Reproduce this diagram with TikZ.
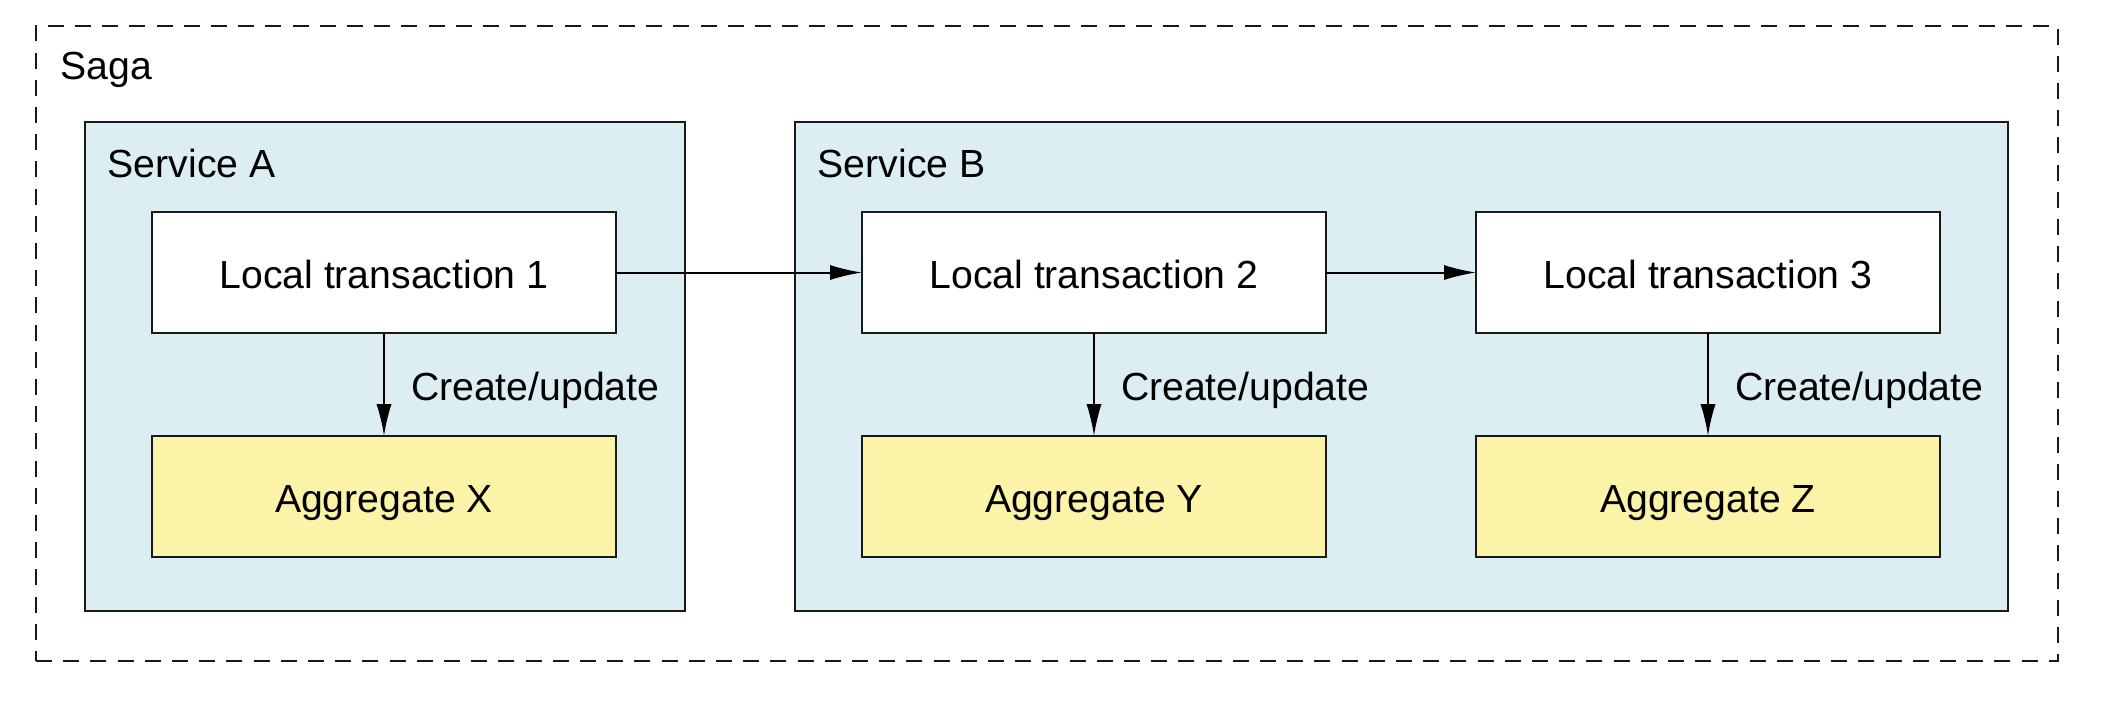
\documentclass[tikz,border=0pt]{standalone}
\usepackage{fontspec}
\setmainfont{Liberation Sans}
\usetikzlibrary{arrows.meta}
\definecolor{svcblue}{RGB}{221,238,243}
\definecolor{aggyellow}{RGB}{250,243,168}
\tikzset{
  every node/.style={font=\fontsize{9.8}{12}\selectfont},
  box/.style={draw=black!90, line width=0.6pt, inner sep=0pt, outer sep=0pt, minimum width=116pt, minimum height=30.25pt, text height=8pt, text depth=0pt},
  txbox/.style={box, fill=white},
  aggbox/.style={box, fill=aggyellow},
  svcbox/.style={draw=black!90, line width=0.6pt, fill=svcblue, inner sep=0pt, outer sep=0pt, minimum height=122.25pt},
  sagabox/.style={draw=black!90, line width=0.6pt, dash pattern=on 4pt off 2.8pt, inner sep=0pt, minimum width=505.5pt, minimum height=158.75pt},
  lbl/.style={anchor=west, inner sep=0pt},
  edgelbl/.style={lbl, text height=8pt, text depth=0pt, xshift=6.5pt},
  conn/.style={line width=0.5pt, -{Latex[length=8pt,width=3.8pt]}},
}
\begin{document}
\begin{tikzpicture}[x=0.25pt,y=-0.25pt]
\useasboundingbox (0,0) rectangle (2106,708);
\node[sagabox] (saga) at (1047,343.5) {};
\node[lbl] (sagalbl) at (60,70) {Saga};
\node[svcbox, minimum width=150pt] (svcA) at (385,366.5) {};
\node[svcbox, minimum width=303.25pt] (svcB) at (1401.5,366.5) {};
\node[lbl] (svcAlbl) at (107,163) {Service A};
\node[lbl] (svcBlbl) at (817,163) {Service B};
\node[txbox] (lt1) at (384,272.5) {Local transaction 1};
\node[txbox] (lt2) at (1094,272.5) {Local transaction 2};
\node[txbox] (lt3) at (1708,272.5) {Local transaction 3};
\node[aggbox] (aggX) at (384,496.5) {Aggregate X};
\node[aggbox] (aggY) at (1094,496.5) {Aggregate Y};
\node[aggbox] (aggZ) at (1708,496.5) {Aggregate Z};
\draw[conn] (lt1) -- (lt2);
\draw[conn] (lt2) -- (lt3);
\draw[conn] (lt1) -- node[edgelbl] {Create/update} (aggX);
\draw[conn] (lt2) -- node[edgelbl] {Create/update} (aggY);
\draw[conn] (lt3) -- node[edgelbl] {Create/update} (aggZ);
\end{tikzpicture}
\end{document}
